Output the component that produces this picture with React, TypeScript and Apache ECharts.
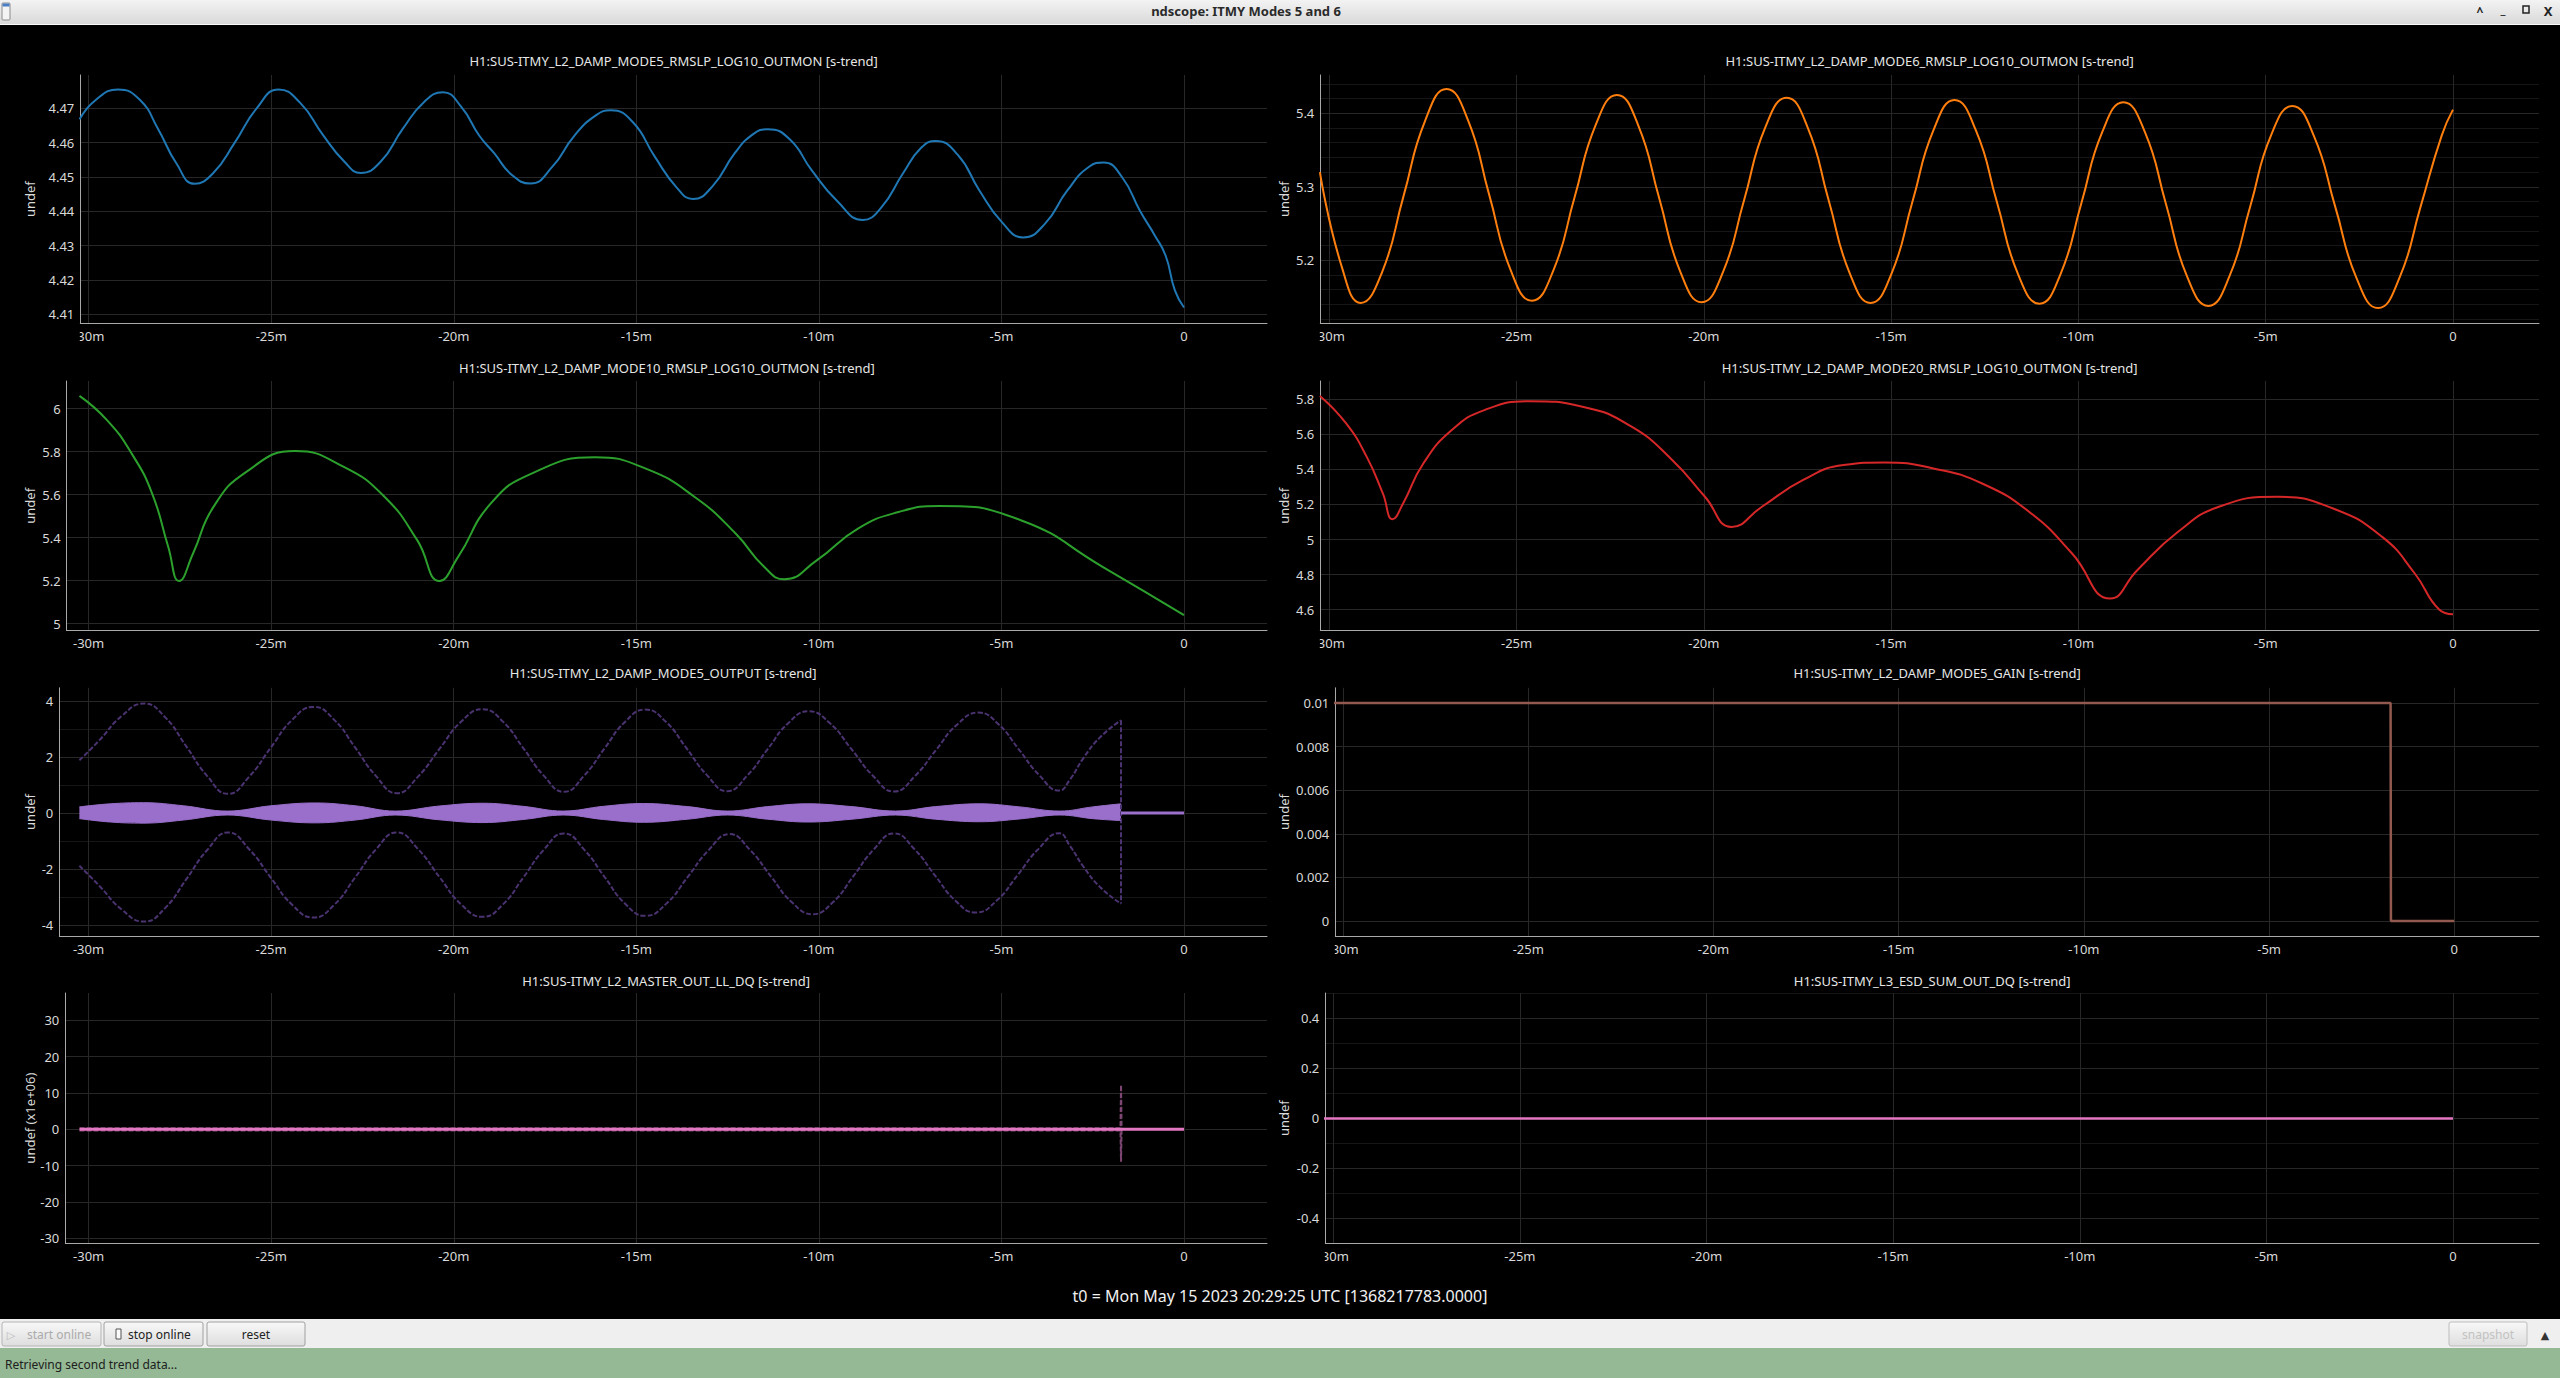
import React, { useEffect, useRef } from "react";
import * as echarts from "echarts";

// ---------------- DATA ----------------
const X_TICKS = [-30, -25, -20, -15, -10, -5, 0];

const TITLES = [
  "H1:SUS-ITMY_L2_DAMP_MODE5_RMSLP_LOG10_OUTMON [s-trend]",
  "H1:SUS-ITMY_L2_DAMP_MODE6_RMSLP_LOG10_OUTMON [s-trend]",
  "H1:SUS-ITMY_L2_DAMP_MODE10_RMSLP_LOG10_OUTMON [s-trend]",
  "H1:SUS-ITMY_L2_DAMP_MODE20_RMSLP_LOG10_OUTMON [s-trend]",
  "H1:SUS-ITMY_L2_DAMP_MODE5_OUTPUT [s-trend]",
  "H1:SUS-ITMY_L2_DAMP_MODE5_GAIN [s-trend]",
  "H1:SUS-ITMY_L2_MASTER_OUT_LL_DQ [s-trend]",
  "H1:SUS-ITMY_L3_ESD_SUM_OUT_DQ [s-trend]",
];
const Y_NAMES = ["undef", "undef", "undef", "undef", "undef", "undef", "undef (x1e+06)", "undef"];

const Y1_TICKS = [4.41, 4.42, 4.43, 4.44, 4.45, 4.46, 4.47];
const Y2_TICKS = [5.2, 5.3, 5.4];
const Y3_TICKS = [5, 5.2, 5.4, 5.6, 5.8, 6];
const Y4_TICKS = [4.6, 4.8, 5, 5.2, 5.4, 5.6, 5.8];
const Y5_TICKS = [-4, -2, 0, 2, 4];
const Y6_TICKS = [0, 0.002, 0.004, 0.006, 0.008, 0.01];
const Y7_TICKS = [-30, -20, -10, 0, 10, 20, 30];
const Y8_TICKS = [-0.4, -0.2, 0, 0.2, 0.4];

// minutes, value
const MODE5_RMS = [
  [-30.25, 4.4668], [-29.8, 4.4725], [-29.2, 4.4755], [-28.6, 4.4725], [-28.1, 4.464], [-27.6, 4.454],
  [-27.1, 4.448], [-26.6, 4.451], [-26.0, 4.46], [-25.4, 4.47], [-24.8, 4.4755], [-24.2, 4.4715],
  [-23.6, 4.4625], [-23.0, 4.4545], [-22.55, 4.4512], [-22.0, 4.4545], [-21.4, 4.464], [-20.8, 4.472],
  [-20.3, 4.4747], [-19.8, 4.4705], [-19.3, 4.462], [-18.9, 4.457], [-18.4, 4.4505], [-17.9, 4.4481],
  [-17.3, 4.453], [-16.7, 4.462], [-16.1, 4.468], [-15.7, 4.4694], [-15.1, 4.466], [-14.5, 4.456],
  [-13.9, 4.447], [-13.45, 4.4436], [-12.9, 4.4475], [-12.3, 4.457], [-11.8, 4.4625], [-11.4, 4.4639],
  [-10.8, 4.461], [-10.2, 4.452], [-9.5, 4.443], [-8.8, 4.4375], [-8.3, 4.441], [-7.7, 4.451],
  [-7.2, 4.4585], [-6.8, 4.4605], [-6.2, 4.4565], [-5.6, 4.446], [-5.0, 4.437], [-4.4, 4.4324],
  [-3.8, 4.4365], [-3.2, 4.446], [-2.6, 4.453], [-2.2, 4.4542], [-1.7, 4.45], [-1.2, 4.44],
  [-0.8, 4.433], [-0.5, 4.427], [-0.25, 4.417], [0, 4.412],
];

const MODE6_RMS = [
  [-30.25, 5.32], [-29.66, 5.19], [-29.16, 5.142],
  [-28.59, 5.184], [-28.02, 5.287], [-27.44, 5.39], [-26.87, 5.433],
  [-26.3, 5.391], [-25.73, 5.289], [-25.16, 5.187], [-24.59, 5.145],
  [-24.02, 5.186], [-23.455, 5.285], [-22.89, 5.384], [-22.32, 5.425],
  [-21.755, 5.384], [-21.19, 5.284], [-20.625, 5.184], [-20.06, 5.143],
  [-19.49, 5.184], [-18.925, 5.282], [-18.36, 5.381], [-17.79, 5.421],
  [-17.23, 5.381], [-16.67, 5.282], [-16.11, 5.183], [-15.55, 5.142],
  [-14.99, 5.182], [-14.43, 5.28], [-13.87, 5.377], [-13.31, 5.418],
  [-12.74, 5.377], [-12.175, 5.279], [-11.61, 5.181], [-11.04, 5.141],
  [-10.48, 5.181], [-9.92, 5.278], [-9.36, 5.375], [-8.8, 5.415],
  [-8.23, 5.375], [-7.665, 5.277], [-7.1, 5.178], [-6.53, 5.138],
  [-5.97, 5.178], [-5.41, 5.274], [-4.85, 5.371], [-4.29, 5.41],
  [-3.72, 5.37], [-3.145, 5.273], [-2.57, 5.175], [-2.0, 5.135],
  [-1.43, 5.176], [-0.865, 5.273], [-0.3, 5.37], [0, 5.405],
];

const MODE10_RMS = [
  [-30.25, 6.06], [-29.49, 5.946], [-28.82, 5.791], [-28.26, 5.605], [-27.82, 5.357], [-27.52, 5.198],
  [-27.14, 5.326], [-26.58, 5.543], [-25.69, 5.705], [-24.35, 5.803], [-23.01, 5.729], [-21.89, 5.589],
  [-21.0, 5.388], [-20.39, 5.198], [-19.88, 5.31], [-18.99, 5.558], [-17.87, 5.698], [-16.13, 5.774],
  [-14.74, 5.721], [-13.4, 5.589], [-12.28, 5.419], [-11.5, 5.264], [-10.95, 5.206], [-10.05, 5.295],
  [-8.93, 5.442], [-7.82, 5.519], [-6.7, 5.547], [-4.47, 5.481], [-2.23, 5.264], [0, 5.039],
];

const MODE20_RMS = [
  [-30.25, 5.82], [-29.55, 5.663], [-29.0, 5.472], [-28.57, 5.263], [-28.31, 5.116], [-28.03, 5.206],
  [-27.49, 5.434], [-26.73, 5.625], [-25.86, 5.739], [-24.65, 5.79], [-23.24, 5.758], [-21.93, 5.644],
  [-20.84, 5.453], [-19.97, 5.244], [-19.26, 5.072], [-18.45, 5.187], [-17.36, 5.339], [-16.27, 5.425],
  [-15.18, 5.44], [-13.87, 5.406], [-12.57, 5.32], [-11.26, 5.149], [-10.17, 4.92], [-9.15, 4.663],
  [-8.43, 4.825], [-7.34, 5.044], [-6.25, 5.187], [-4.68, 5.244], [-3.2, 5.177], [-1.89, 5.015],
  [-1.02, 4.806], [-0.37, 4.6], [0, 4.573],
];

const OUT_MAX = [
  [-30.25, 1.88], [-29.7, 2.6], [-29.1, 3.45],
  [-28.48, 3.905], [-27.905, 3.422], [-27.33, 2.392], [-26.755, 1.329], [-26.18, 0.685],
  [-25.595, 1.305], [-25.01, 2.328], [-24.425, 3.32], [-23.84, 3.785],
  [-23.27, 3.324], [-22.7, 2.339], [-22.13, 1.324], [-21.56, 0.709],
  [-20.97, 1.308], [-20.385, 2.295], [-19.8, 3.253], [-19.21, 3.702],
  [-18.65, 3.26], [-18.095, 2.318], [-17.54, 1.346], [-16.98, 0.757],
  [-16.42, 1.344], [-15.865, 2.311], [-15.31, 3.25], [-14.75, 3.69],
  [-14.19, 3.254], [-13.63, 2.323], [-13.07, 1.363], [-12.51, 0.781],
  [-11.95, 1.351], [-11.395, 2.291], [-10.84, 3.203], [-10.28, 3.63],
  [-9.695, 3.201], [-9.11, 2.285], [-8.525, 1.341], [-7.94, 0.769],
  [-7.36, 1.332], [-6.785, 2.26], [-6.21, 3.161], [-5.63, 3.583],
  [-5.08, 3.166], [-4.525, 2.275], [-3.97, 1.357], [-3.42, 0.8],
  [-3.12, 1.2], [-2.76, 1.95], [-2.3, 2.7], [-1.725, 3.31],
];

const OUT_MIN = [
  [-30.25, -1.88], [-29.7, -2.6], [-29.1, -3.43],
  [-28.48, -3.869], [-27.905, -3.392], [-27.33, -2.376], [-26.755, -1.327], [-26.18, -0.692],
  [-25.595, -1.299], [-25.01, -2.3], [-24.425, -3.271], [-23.84, -3.726],
  [-23.27, -3.271], [-22.7, -2.3], [-22.13, -1.299], [-21.56, -0.692],
  [-20.97, -1.294], [-20.385, -2.287], [-19.8, -3.251], [-19.21, -3.702],
  [-18.65, -3.256], [-18.095, -2.304], [-17.54, -1.322], [-16.98, -0.727],
  [-16.42, -1.315], [-15.865, -2.285], [-15.31, -3.226], [-14.75, -3.667],
  [-14.175, -3.23], [-13.6, -2.296], [-13.025, -1.334], [-12.45, -0.751],
  [-11.88, -1.322], [-11.31, -2.265], [-10.74, -3.179], [-10.17, -3.607],
  [-9.61, -3.175], [-9.055, -2.253], [-8.5, -1.303], [-7.94, -0.727],
  [-7.38, -1.291], [-6.82, -2.222], [-6.26, -3.124], [-5.7, -3.547],
  [-5.13, -3.123], [-4.56, -2.218], [-3.99, -1.285], [-3.42, -0.72],
  [-3.12, -1.18], [-2.76, -1.9], [-2.3, -2.64], [-1.725, -3.23],
];

const OUT_DROP = [[-1.725, 3.31], [-1.725, -3.23]];

const OUT_BAND_HI = [
  [-30.25, 0.22], [-29.4, 0.33], [-28.5, 0.37], [-27.4, 0.26], [-26.2, 0.07], [-25.0, 0.26],
  [-23.8, 0.36], [-22.7, 0.26], [-21.6, 0.07], [-20.4, 0.25], [-19.2, 0.35], [-18.1, 0.24],
  [-17.0, 0.07], [-15.9, 0.24], [-14.8, 0.34], [-13.6, 0.23], [-12.5, 0.07], [-11.4, 0.23],
  [-10.3, 0.33], [-9.1, 0.23], [-7.9, 0.07], [-6.8, 0.23], [-5.6, 0.33], [-4.5, 0.22],
  [-3.4, 0.07], [-2.5, 0.22], [-1.725, 0.33],
];
const OUT_BAND_LO = [
  [-30.25, -0.2], [-29.4, -0.32], [-28.5, -0.36], [-27.4, -0.25], [-26.2, -0.07], [-25.0, -0.25],
  [-23.8, -0.35], [-22.7, -0.25], [-21.6, -0.07], [-20.4, -0.24], [-19.2, -0.34], [-18.1, -0.23],
  [-17.0, -0.07], [-15.9, -0.23], [-14.8, -0.33], [-13.6, -0.22], [-12.5, -0.07], [-11.4, -0.22],
  [-10.3, -0.32], [-9.1, -0.22], [-7.9, -0.07], [-6.8, -0.22], [-5.6, -0.31], [-4.5, -0.21],
  [-3.4, -0.07], [-2.5, -0.2], [-1.725, -0.27],
];
const OUT_TAIL = [[-1.725, 0], [0, 0]];

const GAIN = [[-30.25, 0.01], [-1.72, 0.01], [-1.71, 0], [0, 0]];

const LL_MEAN = [[-30.25, 0], [-1.725, 0], [0, 0]];
const LL_MAX = [[-30.25, 0.3], [-1.74, 0.3], [-1.725, 12.2], [-1.71, 0]];
const LL_MIN = [[-30.25, -0.3], [-1.74, -0.3], [-1.725, -8.9], [-1.71, 0]];

const ESD = [[-30.25, 0], [0, 0]];

// ---------------- LAYOUT / STYLE ----------------
const FONT = "'Noto Sans', 'DejaVu Sans', sans-serif";
const GRID_COLOR = "#272727";
const MINOR_COLOR = "#161616";
const AXIS_COLOR = "#a9a9a9";
const LABEL_COLOR = "#d9d9d9";

const LEFT_NAME_X = 29.5;
const RIGHT_NAME_X = 1284;

const LAYOUT = [
  { left: 80.3, right: 1267, top: 75, bottom: 323.3, xMin: -30.23, xMax: 2.273, yMin: 4.4074, yMax: 4.4797, split: 5, minor: 0, ticks: Y1_TICKS, titleY: 61, nameX: LEFT_NAME_X },
  { left: 1320.3, right: 2539, top: 75, bottom: 323.3, xMin: -30.24, xMax: 2.296, yMin: 5.1143, yMax: 5.4521, split: 3, minor: 5, ticks: Y2_TICKS, titleY: 61, nameX: RIGHT_NAME_X },
  { left: 66.7, right: 1267, top: 381, bottom: 630.6, xMin: -30.6, xMax: 2.273, yMin: 4.967, yMax: 6.129, split: 5, minor: 0, ticks: Y3_TICKS, titleY: 367.7, nameX: LEFT_NAME_X },
  { left: 1320.3, right: 2539, top: 381, bottom: 630.6, xMin: -30.24, xMax: 2.296, yMin: 4.48, yMax: 5.905, split: 6, minor: 0, ticks: Y4_TICKS, titleY: 367.7, nameX: RIGHT_NAME_X },
  { left: 59.3, right: 1267, top: 687.8, bottom: 936.2, xMin: -30.8, xMax: 2.273, yMin: -4.392, yMax: 4.467, split: 4, minor: 2, ticks: Y5_TICKS, titleY: 673.3, nameX: LEFT_NAME_X },
  { left: 1335.3, right: 2539, top: 687.8, bottom: 936.2, xMin: -30.21, xMax: 2.287, yMin: -0.0007, yMax: 0.0107, split: 5, minor: 0, ticks: Y6_TICKS, titleY: 673.3, nameX: RIGHT_NAME_X },
  { left: 65.3, right: 1267, top: 993, bottom: 1243.3, xMin: -30.64, xMax: 2.273, yMin: -31.38, yMax: 37.51, split: 6, minor: 0, ticks: Y7_TICKS, titleY: 980.7, nameX: LEFT_NAME_X },
  { left: 1325.3, right: 2539, top: 993, bottom: 1243.3, xMin: -30.214, xMax: 2.304, yMin: -0.5, yMax: 0.502, split: 5, minor: 2, ticks: Y8_TICKS, titleY: 980.7, nameX: RIGHT_NAME_X },
];

const C_BLUE = "#1f77b4";
const C_ORANGE = "#ff7f0e";
const C_GREEN = "#2ca02c";
const C_RED = "#d62728";
const C_PURPLE = "#9a6fcb";
const C_PURPLE_DIM = "#4a3370";
const C_BROWN = "#925a4f";
const C_PINK = "#e377c2";
const C_PINK_DIM = "#7e4672";

const fmtX = (v: number) => (v === 0 ? "0" : `${v}m`);
const fmtY = (v: number) => String(Math.round(v * 1e6) / 1e6);

function line(i: number, data: number[][], color: string, width: number, extra: any = {}) {
  return {
    type: "line",
    xAxisIndex: i,
    yAxisIndex: i,
    data,
    symbol: "none",
    showSymbol: false,
    silent: true,
    lineStyle: { color, width },
    itemStyle: { color },
    ...extra,
  };
}

function buildOption() {
  const grids = LAYOUT.map((p) => ({
    left: p.left,
    top: p.top,
    width: p.right - p.left,
    height: p.bottom - p.top,
    containLabel: false,
    outerBoundsMode: "none",
    show: false,
  }));

  const xAxes = LAYOUT.map((p, i) => ({
    type: "value",
    gridIndex: i,
    min: p.xMin,
    max: p.xMax,
    axisLine: { show: true, onZero: false, lineStyle: { color: AXIS_COLOR, width: 1 } },
    axisTick: { show: false, customValues: X_TICKS },
    axisLabel: {
      customValues: X_TICKS,
      formatter: fmtX,
      color: LABEL_COLOR,
      fontSize: 13,
      fontFamily: FONT,
      margin: 6,
    },
    splitLine: { show: true, lineStyle: { color: GRID_COLOR, width: 1 } },
  }));

  const yAxes = LAYOUT.map((p, i) => ({
    type: "value",
    gridIndex: i,
    min: p.yMin,
    max: p.yMax,
    splitNumber: p.split,
    name: Y_NAMES[i],
    nameLocation: "middle",
    nameGap: p.left - p.nameX - 6.5,
    nameTextStyle: { color: LABEL_COLOR, fontSize: 13, fontFamily: FONT },
    axisLine: { show: true, onZero: false, lineStyle: { color: AXIS_COLOR, width: 1 } },
    axisTick: { show: false, customValues: p.ticks },
    axisLabel: {
      customValues: p.ticks,
      formatter: fmtY,
      color: LABEL_COLOR,
      fontSize: 13,
      fontFamily: FONT,
      margin: 6,
    },
    splitLine: { show: true, lineStyle: { color: GRID_COLOR, width: 1 } },
    minorTick: { show: false, splitNumber: p.minor || 5 },
    minorSplitLine: { show: p.minor > 0, lineStyle: { color: MINOR_COLOR, width: 1 } },
  }));

  const smooth = { smooth: 0.5 };
  const dashed = (c: string) => ({ lineStyle: { color: c, width: 2, type: [5, 2] } });

  const series: any[] = [
    line(0, MODE5_RMS, C_BLUE, 2, smooth),
    line(1, MODE6_RMS, C_ORANGE, 2, smooth),
    line(2, MODE10_RMS, C_GREEN, 2, smooth),
    line(3, MODE20_RMS, C_RED, 2, smooth),
    line(4, OUT_MAX, C_PURPLE_DIM, 2, { ...smooth, ...dashed(C_PURPLE_DIM) }),
    line(4, OUT_MIN, C_PURPLE_DIM, 2, { ...smooth, ...dashed(C_PURPLE_DIM) }),
    line(4, OUT_DROP, C_PURPLE_DIM, 2, dashed(C_PURPLE_DIM)),
    line(4, OUT_BAND_HI, C_PURPLE, 1, { smooth: 0.4, areaStyle: { color: C_PURPLE, opacity: 1, origin: 0 } }),
    line(4, OUT_BAND_LO, C_PURPLE, 1, { smooth: 0.4, areaStyle: { color: C_PURPLE, opacity: 1, origin: 0 } }),
    line(4, OUT_TAIL, C_PURPLE, 3),
    line(5, GAIN, C_BROWN, 2.5),
    line(6, LL_MAX, C_PINK_DIM, 2, dashed(C_PINK_DIM)),
    line(6, LL_MIN, C_PINK_DIM, 2, dashed(C_PINK_DIM)),
    line(6, LL_MEAN, C_PINK, 3),
    line(7, ESD, C_PINK, 2.5),
  ];

  const titleGrad = new echarts.graphic.LinearGradient(0, 0, 0, 1, [
    { offset: 0, color: "#f3f3f3" },
    { offset: 1, color: "#d8d8d8" },
  ]);
  const btnGrad = () =>
    new echarts.graphic.LinearGradient(0, 0, 0, 1, [
      { offset: 0, color: "#f8f8f8" },
      { offset: 1, color: "#dedede" },
    ]);

  const txt = (x: number, y: number, text: string, size: number, fill: string, align = "center", weight = "normal") => ({
    type: "text",
    x,
    y,
    z: 60,
    silent: true,
    style: { text, fill, fontSize: size, fontFamily: FONT, fontWeight: weight, align, verticalAlign: "middle" },
  });
  const rect = (x: number, y: number, w: number, h: number, style: any, r = 0) => ({
    type: "rect",
    z: 55,
    silent: true,
    shape: { x, y, width: w, height: h, r },
    style,
  });

  const elements: any[] = [];
  LAYOUT.forEach((p, i) => {
    elements.push(txt((p.left + p.right) / 2, p.titleY, TITLES[i], 13, "#e6e6e6"));
    // clip axis labels that extend left of the axis (like the original view clipping)
    elements.push(rect(p.left - 40, p.bottom + 1.5, 39.5, 24, { fill: "#000" }));
  });

  // window title bar
  elements.push(rect(0, 0, 2560, 25, { fill: titleGrad }));
  elements.push(rect(0, 24, 2560, 1, { fill: "#fafafa" }));
  elements.push(rect(2, 3, 8, 17, { fill: "#f4f4f4", stroke: "#8c8c8c", lineWidth: 1 }, 1));
  elements.push(rect(2.5, 3.5, 7, 3, { fill: "#4a7fc4" }));
  elements.push(txt(1246, 11, "ndscope: ITMY Modes 5 and 6", 13, "#2a2a2a", "center", "bold"));
  elements.push(txt(2480, 11, "^", 12, "#222", "center", "bold"));
  elements.push(txt(2503, 9, "_", 12, "#222", "center", "bold"));
  elements.push(rect(2523, 6, 6, 7, { fill: "none", stroke: "#222", lineWidth: 1.5 }));
  elements.push(txt(2548, 11, "X", 13, "#222", "center", "bold"));

  // time origin label
  elements.push(txt(1280, 1296, "t0 = Mon May 15 2023 20:29:25 UTC [1368217783.0000]", 16, "#f0f0f0"));

  // toolbar
  elements.push(rect(0, 1319, 2560, 29, { fill: "#efefef" }));
  elements.push(rect(2, 1322, 99, 24, { fill: btnGrad(), stroke: "#b4b4b4", lineWidth: 1 }, 2));
  elements.push(rect(104, 1322, 99, 24, { fill: btnGrad(), stroke: "#a0a0a0", lineWidth: 1 }, 2));
  elements.push(rect(207, 1322, 98, 24, { fill: btnGrad(), stroke: "#a0a0a0", lineWidth: 1 }, 2));
  elements.push(txt(11, 1334, "▷", 11, "#b8b8b8"));
  elements.push(txt(27, 1334, "start online", 12, "#ababab", "left"));
  elements.push(rect(116, 1329, 5, 10, { fill: "#fafafa", stroke: "#555", lineWidth: 1 }));
  elements.push(txt(128, 1334, "stop online", 12, "#222", "left"));
  elements.push(txt(256, 1334, "reset", 12, "#222"));
  elements.push(rect(2449, 1322, 78, 24, { fill: btnGrad(), stroke: "#bdbdbd", lineWidth: 1 }, 2));
  elements.push(txt(2488, 1334, "snapshot", 12, "#c2c2c2"));
  elements.push(txt(2545, 1334, "▲", 11, "#333"));

  // status bar
  elements.push(rect(0, 1348, 2560, 30, { fill: "#94b994" }));
  elements.push(txt(5, 1364, "Retrieving second trend data...", 12, "#202020", "left"));

  return {
    animation: false,
    backgroundColor: "#000",
    grid: grids,
    xAxis: xAxes,
    yAxis: yAxes,
    series,
    graphic: elements,
  };
}

export default function App() {
  const ref = useRef<HTMLDivElement>(null);
  useEffect(() => {
    document.body.style.margin = "0";
    const chart = echarts.init(ref.current as HTMLDivElement, null, { renderer: "svg", width: 2560, height: 1378 });
    chart.setOption(buildOption() as any);
    return () => chart.dispose();
  }, []);
  return (
    <div
      ref={ref}
      style={{ position: "absolute", left: 0, top: 0, width: 2560, height: 1378, background: "#000", overflow: "hidden" }}
    />
  );
}
